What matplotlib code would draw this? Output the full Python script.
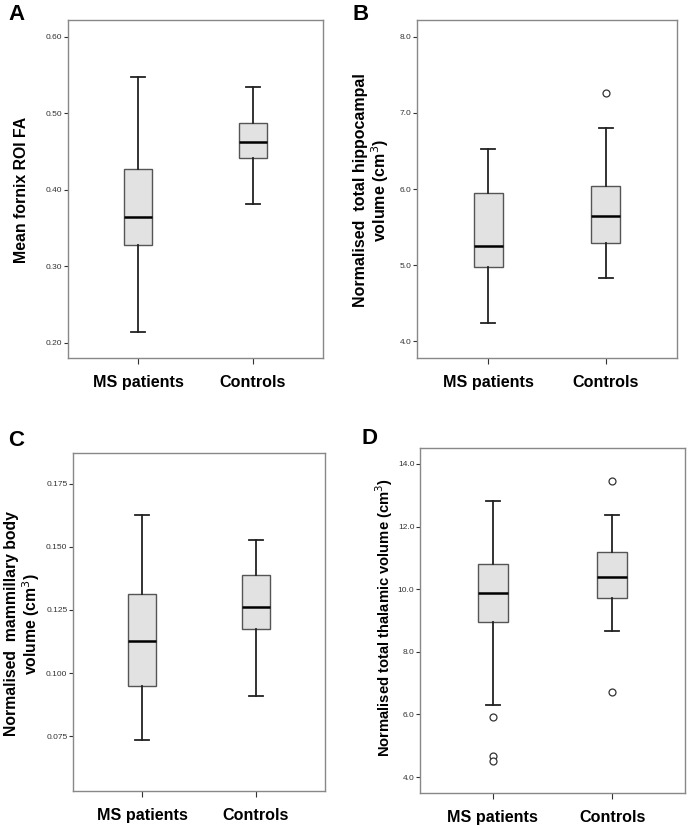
import matplotlib
matplotlib.use("Agg")
import matplotlib.pyplot as plt

plt.rcParams['font.family'] = ['Liberation Sans', 'DejaVu Sans']

groups = ["MS patients", "Controls"]

# panel A: mean fornix ROI FA
a_whislo = [0.2144, 0.381]
a_q1 = [0.3275, 0.442]
a_med = [0.364, 0.463]
a_q3 = [0.427, 0.487]
a_whishi = [0.548, 0.534]
a_fliers = [[], []]
a_ticks = [0.20, 0.30, 0.40, 0.50, 0.60]

# panel B: hippocampal volume
b_whislo = [4.245, 4.835]
b_q1 = [4.975, 5.285]
b_med = [5.246, 5.64]
b_q3 = [5.954, 6.033]
b_whishi = [6.52, 6.80]
b_fliers = [[], [7.26]]
b_ticks = [4.0, 5.0, 6.0, 7.0, 8.0]

# panel C: mammillary body volume
c_whislo = [0.0736, 0.0911]
c_q1 = [0.095, 0.1174]
c_med = [0.1128, 0.1263]
c_q3 = [0.1312, 0.1387]
c_whishi = [0.1624, 0.1525]
c_fliers = [[], []]
c_ticks = [0.075, 0.100, 0.125, 0.150, 0.175]

# panel D: thalamic volume
d_whislo = [6.31, 8.68]
d_q1 = [8.94, 9.72]
d_med = [9.88, 10.38]
d_q3 = [10.81, 11.20]
d_whishi = [12.83, 12.38]
d_fliers = [[5.92, 4.66, 4.52], [13.45, 6.71]]
d_ticks = [4.0, 6.0, 8.0, 10.0, 12.0, 14.0]

fig = plt.figure(figsize=(6.89, 8.26), dpi=100)
W, H = 689.0, 826.0

def add_ax(x0, y0, x1, y1):
    return fig.add_axes([x0 / W, 1 - y1 / H, (x1 - x0) / W, (y1 - y0) / H])

def panel(ax, whislo, q1, med, q3, whishi, fliers, ticks, ylim, fmt, ylabel, letter, letter_xy,
          ylabel_x, ylabel_y, ylabel_size):
    stats = []
    for i in range(2):
        stats.append(dict(whislo=whislo[i], q1=q1[i], med=med[i], q3=q3[i],
                          whishi=whishi[i], fliers=fliers[i], label=groups[i]))
    ax.bxp(stats, positions=[1, 2], widths=0.25, patch_artist=True,
           boxprops=dict(facecolor='#e2e2e2', edgecolor='#555555', linewidth=1.0),
           medianprops=dict(color='black', linewidth=1.8),
           whiskerprops=dict(color='#222222', linewidth=1.3),
           capprops=dict(color='#222222', linewidth=1.3),
           capwidths=0.12,
           flierprops=dict(marker='o', markerfacecolor='white', markeredgecolor='#333333',
                           markersize=5, markeredgewidth=0.9))
    ax.set_xlim(0.39, 2.61)
    ax.set_ylim(*ylim)
    ax.set_yticks(ticks)
    ax.set_yticklabels([fmt.format(t) for t in ticks], fontsize=6, color='#333333')
    ax.set_xticks([1, 2])
    ax.set_xticklabels(groups, fontsize=11.6, fontweight='bold')
    ax.tick_params(axis='y', direction='out', length=3, width=0.8, color='#333333', pad=1)
    ax.tick_params(axis='x', direction='out', length=4, width=0.8, color='#333333', pad=8)
    for s in ax.spines.values():
        s.set_color('#888888')
        s.set_linewidth(1.0)
    fig.text(letter_xy[0] / W, 1 - letter_xy[1] / H, letter, fontsize=16, fontweight='bold',
             ha='left', va='center')
    fig.text(ylabel_x / W, 1 - ylabel_y / H, ylabel, rotation=90, ha='center', va='center',
             fontweight='bold', fontsize=ylabel_size, linespacing=1.1)

axA = add_ax(68, 20, 323, 358)
panel(axA, a_whislo, a_q1, a_med, a_q3, a_whishi, a_fliers, a_ticks, (0.180, 0.622), '{:.2f}',
      'Mean fornix ROI FA', 'A', (8, 15), 22, 190, 11.4)

axB = add_ax(417, 20, 677, 358)
panel(axB, b_whislo, b_q1, b_med, b_q3, b_whishi, b_fliers, b_ticks, (3.78, 8.22), '{:.1f}',
      'Normalised  total hippocampal\nvolume (cm$^3$)', 'B', (353, 15), 372, 190, 11.5)

axC = add_ax(73, 453, 325, 791)
panel(axC, c_whislo, c_q1, c_med, c_q3, c_whishi, c_fliers, c_ticks, (0.0533, 0.1871), '{:.3f}',
      'Normalised  mammillary body\nvolume (cm$^3$)', 'C', (8, 441), 23, 624, 11.3)

axD = add_ax(420, 448, 685, 793)
panel(axD, d_whislo, d_q1, d_med, d_q3, d_whishi, d_fliers, d_ticks, (3.49, 14.51), '{:.1f}',
      'Normalised total thalamic volume (cm$^3$)', 'D', (362, 438), 384, 618, 10.6)

fig.savefig('out.png', dpi=100)
